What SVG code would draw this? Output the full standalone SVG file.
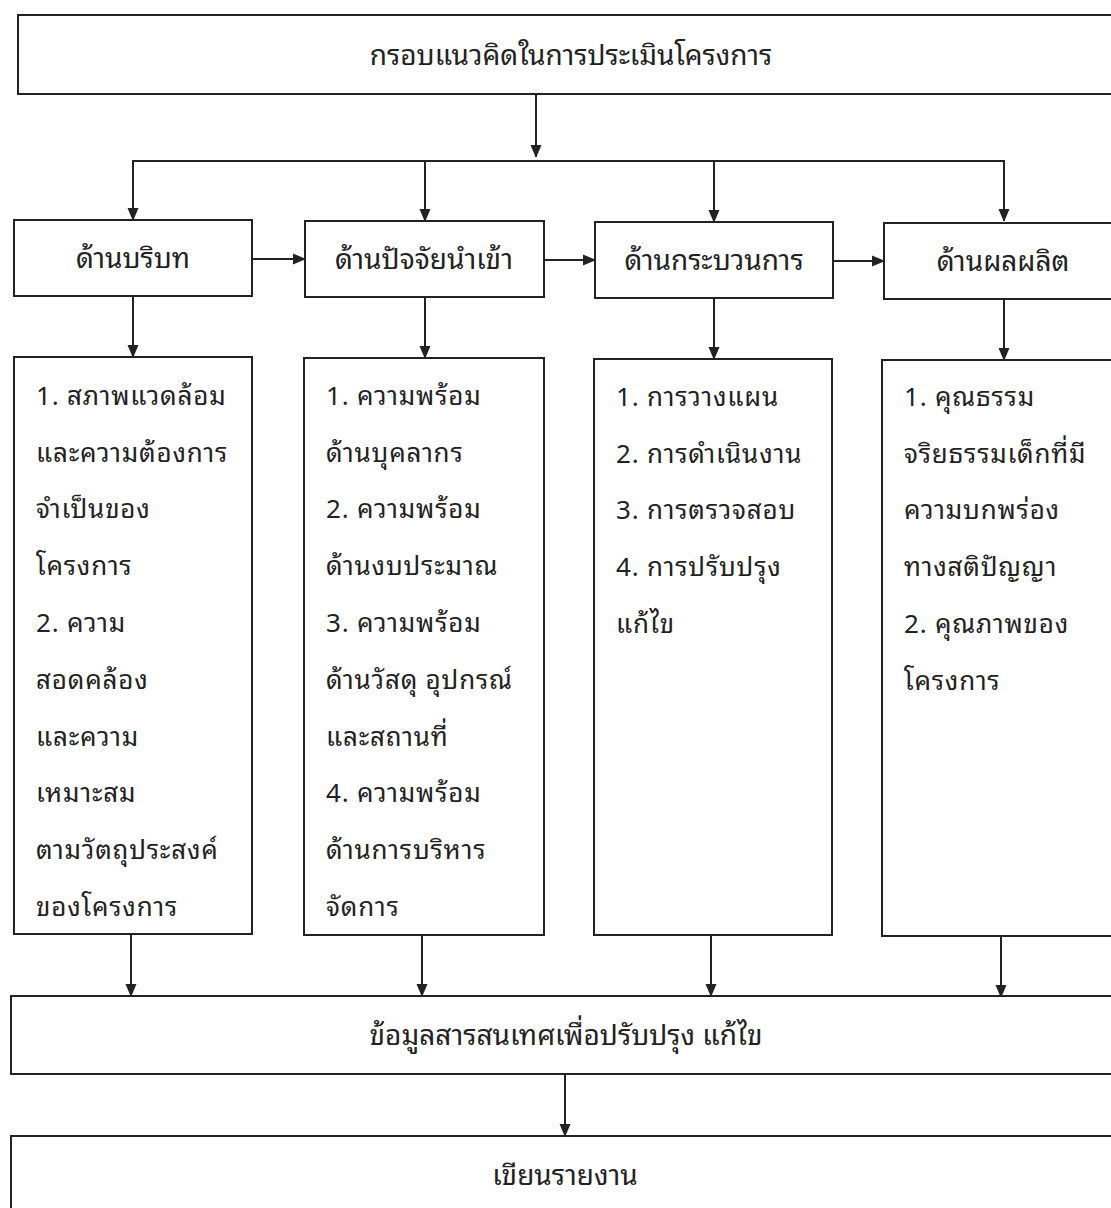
<svg xmlns="http://www.w3.org/2000/svg" width="1111" height="1208" viewBox="0 0 1111 1208">
<defs>
<marker id="ah" markerWidth="12" markerHeight="14" refX="12" refY="6" orient="auto" markerUnits="userSpaceOnUse">
<path d="M0,0.5 L13,6 L0,11.5 Z" fill="#222"/>
</marker>
<style>
.box{fill:#fff;stroke:#222;stroke-width:2}
.ln{fill:none;stroke:#222;stroke-width:2}
.t{font-family:"Noto Sans Thai Looped","Noto Sans Thai","Noto Sans",sans-serif;fill:#222}
.h{font-size:28px;text-anchor:middle}
.l{font-size:26px;letter-spacing:0.8px}
</style>
</defs>
<rect width="1111" height="1208" fill="#fff"/>
<g id="connectors">
<line class="ln" x1="536" y1="94" x2="536" y2="157" marker-end="url(#ah)"/>
<polyline class="ln" points="133,220 133,161 1004,161 1004,221" marker-end="url(#ah)"/>
<line class="ln" x1="133" y1="161" x2="133" y2="220" marker-end="url(#ah)"/>
<line class="ln" x1="425" y1="161" x2="425" y2="221" marker-end="url(#ah)"/>
<line class="ln" x1="714" y1="161" x2="714" y2="222" marker-end="url(#ah)"/>
<line class="ln" x1="252" y1="259" x2="305" y2="259" marker-end="url(#ah)"/>
<line class="ln" x1="544" y1="260" x2="595" y2="260" marker-end="url(#ah)"/>
<line class="ln" x1="833" y1="261" x2="884" y2="261" marker-end="url(#ah)"/>
<line class="ln" x1="133" y1="296" x2="133" y2="357" marker-end="url(#ah)"/>
<line class="ln" x1="425" y1="297" x2="425" y2="358" marker-end="url(#ah)"/>
<line class="ln" x1="714" y1="298" x2="714" y2="359" marker-end="url(#ah)"/>
<line class="ln" x1="1004" y1="299" x2="1004" y2="360" marker-end="url(#ah)"/>
<line class="ln" x1="131" y1="934" x2="131" y2="996" marker-end="url(#ah)"/>
<line class="ln" x1="422" y1="935" x2="422" y2="996" marker-end="url(#ah)"/>
<line class="ln" x1="711" y1="935" x2="711" y2="996" marker-end="url(#ah)"/>
<line class="ln" x1="1001" y1="936" x2="1001" y2="997" marker-end="url(#ah)"/>
<line class="ln" x1="565" y1="1074" x2="565" y2="1136" marker-end="url(#ah)"/>
</g>
<g id="title">
<rect class="box" x="18" y="15" width="1110" height="79"/>
<text class="t h" x="571" y="65">กรอบแนวคิดในการประเมินโครงการ</text>
</g>
<g id="context">
<rect class="box" x="14" y="220" width="238" height="76"/>
<text class="t h" x="133" y="268">ด้านบริบท</text>
</g>
<g id="input">
<rect class="box" x="305" y="221" width="239" height="76"/>
<text class="t h" x="424" y="269">ด้านปัจจัยนำเข้า</text>
</g>
<g id="process">
<rect class="box" x="595" y="222" width="238" height="76"/>
<text class="t h" x="714" y="270">ด้านกระบวนการ</text>
</g>
<g id="product">
<rect class="box" x="884" y="223" width="240" height="76"/>
<text class="t h" x="1003" y="271">ด้านผลผลิต</text>
</g>
<g id="context-items">
<rect class="box" x="14" y="357" width="238" height="577"/>
<text class="t l" x="36" y="405">1. สภาพแวดล้อม</text>
<text class="t l" x="36" y="462">และความต้องการ</text>
<text class="t l" x="36" y="518">จำเป็นของ</text>
<text class="t l" x="36" y="575">โครงการ</text>
<text class="t l" x="36" y="632">2. ความ</text>
<text class="t l" x="36" y="689">สอดคล้อง</text>
<text class="t l" x="36" y="746">และความ</text>
<text class="t l" x="36" y="802">เหมาะสม</text>
<text class="t l" x="36" y="859">ตามวัตถุประสงค์</text>
<text class="t l" x="36" y="916">ของโครงการ</text>
</g>
<g id="input-items">
<rect class="box" x="304" y="358" width="240" height="577"/>
<text class="t l" x="326" y="405">1. ความพร้อม</text>
<text class="t l" x="326" y="462">ด้านบุคลากร</text>
<text class="t l" x="326" y="518">2. ความพร้อม</text>
<text class="t l" x="326" y="575">ด้านงบประมาณ</text>
<text class="t l" x="326" y="632">3. ความพร้อม</text>
<text class="t l" x="326" y="689">ด้านวัสดุ อุปกรณ์</text>
<text class="t l" x="326" y="746">และสถานที่</text>
<text class="t l" x="326" y="802">4. ความพร้อม</text>
<text class="t l" x="326" y="859">ด้านการบริหาร</text>
<text class="t l" x="326" y="916">จัดการ</text>
</g>
<g id="process-items">
<rect class="box" x="594" y="359" width="238" height="576"/>
<text class="t l" x="616" y="406">1. การวางแผน</text>
<text class="t l" x="616" y="463">2. การดำเนินงาน</text>
<text class="t l" x="616" y="519">3. การตรวจสอบ</text>
<text class="t l" x="616" y="576">4. การปรับปรุง</text>
<text class="t l" x="616" y="633">แก้ไข</text>
</g>
<g id="product-items">
<rect class="box" x="882" y="360" width="240" height="576"/>
<text class="t l" x="904" y="406">1. คุณธรรม</text>
<text class="t l" x="904" y="463">จริยธรรมเด็กที่มี</text>
<text class="t l" x="904" y="519">ความบกพร่อง</text>
<text class="t l" x="904" y="576">ทางสติปัญญา</text>
<text class="t l" x="904" y="633">2. คุณภาพของ</text>
<text class="t l" x="904" y="690">โครงการ</text>
</g>
<g id="information">
<rect class="box" x="11" y="996" width="1115" height="78"/>
<text class="t h" x="566" y="1045">ข้อมูลสารสนเทศเพื่อปรับปรุง แก้ไข</text>
</g>
<g id="report">
<rect class="box" x="11" y="1136" width="1115" height="90"/>
<text class="t h" x="565" y="1185">เขียนรายงาน</text>
</g>
</svg>
